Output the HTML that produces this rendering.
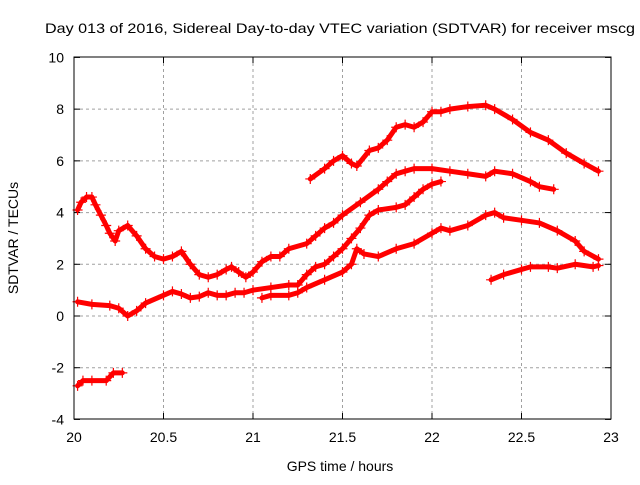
<!DOCTYPE html>
<html><head><meta charset="utf-8"><style>
body{margin:0;background:#fff}
svg text{font-family:"Liberation Sans",sans-serif;font-size:14px;fill:#000}
</style></head><body>
<svg id="c" width="640" height="480">
<text x="45" y="33" textLength="590" lengthAdjust="spacingAndGlyphs">Day 013 of 2016, Sidereal Day-to-day VTEC variation (SDTVAR) for receiver mscg</text>
<text x="340" y="471" text-anchor="middle">GPS time / hours</text>
<text transform="translate(18,238) rotate(-90)" text-anchor="middle">SDTVAR / TECUs</text>
<g id="grid"></g><g id="marks"></g>
<rect x="74" y="57" width="537" height="362" fill="none" stroke="#000"/>
</svg>
<script>
const xTicks=[20,20.5,21,21.5,22,22.5,23];
const yTicks=[-4,-2,0,2,4,6,8,10];
const s1x=[20.02,20.04,20.07,20.1,20.12,20.15,20.18,20.2,20.23,20.25,20.3,20.35,20.4,20.45,20.5,20.55,20.6,20.65,20.7,20.75,20.8,20.85,20.88,20.92,20.96,21.0,21.05,21.1,21.15,21.2,21.3,21.35,21.4,21.45,21.5,21.6,21.7,21.75,21.8,21.85,21.9,22.0,22.1,22.2,22.3,22.35,22.45,22.55,22.6,22.68];
const s1y=[4.1,4.4,4.6,4.6,4.3,3.9,3.5,3.2,2.9,3.3,3.5,3.1,2.6,2.3,2.2,2.3,2.5,2.0,1.6,1.5,1.6,1.8,1.9,1.7,1.5,1.7,2.1,2.3,2.3,2.6,2.8,3.1,3.4,3.6,3.9,4.4,4.9,5.2,5.5,5.6,5.7,5.7,5.6,5.5,5.4,5.6,5.5,5.2,5.0,4.9];
const s2x=[20.02,20.1,20.2,20.25,20.3,20.35,20.4,20.5,20.55,20.6,20.65,20.7,20.75,20.8,20.85,20.9,20.95,21.0,21.1,21.2,21.25,21.3,21.35,21.4,21.45,21.5,21.55,21.6,21.65,21.7,21.8,21.85,21.9,21.95,22.0,22.05];
const s2y=[0.55,0.45,0.4,0.3,0.0,0.2,0.5,0.8,0.95,0.85,0.7,0.75,0.9,0.8,0.8,0.9,0.9,1.0,1.1,1.2,1.2,1.6,1.9,2.0,2.3,2.6,3.0,3.4,3.9,4.1,4.2,4.3,4.6,4.9,5.1,5.2];
const s3x=[21.05,21.1,21.2,21.25,21.3,21.4,21.5,21.55,21.58,21.62,21.7,21.8,21.9,22.0,22.05,22.1,22.2,22.3,22.35,22.4,22.5,22.6,22.7,22.8,22.85,22.93];
const s3y=[0.7,0.8,0.8,0.9,1.1,1.4,1.7,2.0,2.6,2.4,2.3,2.6,2.8,3.2,3.4,3.3,3.5,3.9,4.0,3.8,3.7,3.6,3.3,2.9,2.5,2.2];
const s4x=[21.32,21.4,21.45,21.5,21.55,21.58,21.65,21.7,21.75,21.8,21.85,21.9,21.95,22.0,22.05,22.1,22.2,22.3,22.35,22.45,22.55,22.65,22.75,22.85,22.93];
const s4y=[5.3,5.7,6.0,6.2,5.9,5.8,6.4,6.5,6.8,7.3,7.4,7.3,7.5,7.9,7.9,8.0,8.1,8.15,8.0,7.6,7.1,6.8,6.3,5.9,5.6];
const s5x=[22.33,22.4,22.5,22.55,22.65,22.7,22.8,22.9,22.93];
const s5y=[1.4,1.6,1.8,1.9,1.9,1.85,2.0,1.9,1.95];
const s6x=[20.02,20.05,20.1,20.18,20.22,20.27];
const s6y=[-2.7,-2.5,-2.5,-2.5,-2.2,-2.2];
const NS="http://www.w3.org/2000/svg";
const X=v=>74+(v-20)*537/3, Y=v=>316-v*362/14;
const grid=document.getElementById('grid'), marks=document.getElementById('marks');
function mk(t,a,p){const e=document.createElementNS(NS,t);for(const k in a)e.setAttribute(k,a[k]);p.appendChild(e);return e;}
xTicks.forEach(t=>{
  const x=X(t);
  if(t>20&&t<23){const l=mk('line',{x1:x,x2:x,y1:57,y2:419,stroke:'#a0a0a0','stroke-dasharray':'3,3'},grid);
  
  }
  mk('line',{x1:x,x2:x,y1:419,y2:413,stroke:'#000'},grid);
  mk('line',{x1:x,x2:x,y1:57,y2:63,stroke:'#000'},grid);
  const tx=mk('text',{x:x,y:442,'text-anchor':'middle'},grid);tx.textContent=t;
  
  
});
yTicks.forEach(t=>{
  const y=Y(t);
  if(t>-4&&t<10){const l=mk('line',{x1:74,x2:611,y1:y,y2:y,stroke:'#a0a0a0','stroke-dasharray':'3,3'},grid);
  
  }
  mk('line',{x1:74,x2:80,y1:y,y2:y,stroke:'#000'},grid);
  mk('line',{x1:611,x2:605,y1:y,y2:y,stroke:'#000'},grid);
  const tx=mk('text',{x:64,y:y+5,'text-anchor':'end'},grid);tx.textContent=t;
  
  
});
[[s1x,s1y],[s2x,s2y],[s3x,s3y],[s4x,s4y],[s5x,s5y],[s6x,s6y]].forEach((s,i)=>{
  const g=mk('g',{},marks);
  
  
  const pts=s[0].map((v,j)=>X(v)+','+Y(s[1][j])).join(' ');
  mk('polyline',{points:pts,fill:'none',stroke:'#f00','stroke-width':5,'stroke-linejoin':'round','stroke-linecap':'round'},g);
  s[0].forEach((v,j)=>{
    const x=X(v),y=Y(s[1][j]);
    const p=mk('path',{d:`M${x-5},${y}h10M${x},${y-5}v10`,stroke:'#f00','stroke-width':1.2},g);
    
    
  });
});
</script>
</body></html>
